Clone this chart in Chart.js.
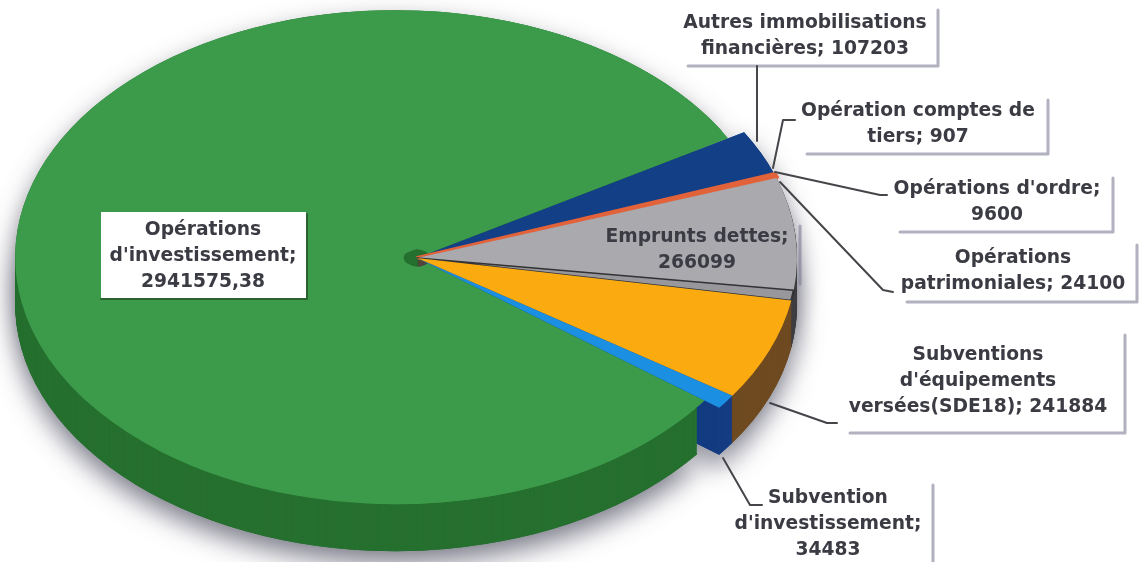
<!DOCTYPE html>
<html lang="fr">
<head>
<meta charset="utf-8">
<title>Répartition</title>
<script src="https://cdn.jsdelivr.net/npm/chart.js@4/dist/chart.umd.min.js"></script>
<style>
html,body{margin:0;padding:0;background:#fff;overflow:hidden}
#wrap{position:relative;width:1141px;height:562px}
canvas{display:block;filter:blur(0.55px)}
</style>
</head>
<body>
<div id="wrap"><canvas id="c" width="1141" height="562"></canvas></div>
<script>
const categories = ["Autres immobilisations financières","Opération comptes de tiers","Opérations d'ordre","Emprunts dettes","Opérations patrimoniales","Subventions d'équipements versées(SDE18)","Subvention d'investissement","Opérations d'investissement"];
const seriesValues = [107203,907,9600,266099,24100,241884,34483,2941575.38];
const labelLines = [
  ["Autres immobilisations","financières; 107203"],
  ["Opération comptes de","tiers; 907"],
  ["Opérations d'ordre;","9600"],
  ["Emprunts dettes;","266099"],
  ["Opérations","patrimoniales; 24100"],
  ["Subventions","d'équipements","versées(SDE18); 241884"],
  ["Subvention","d'investissement;","34483"],
  ["Opérations","d'investissement;","2941575,38"]
];
const topColors = ["#123f86","#123f86","#e2623a","#a9a9ae","#98989c","#fbab10","#1b8fe2","#3c9b4a"];
const sideColors = ["#123f86","#123f86","#a8452a","#3f3f42","#3f3f42","#6f4a20","#143c82","#26702f"];
const borderColors = ["#123f86","#123f86","#e2623a","#a9a9ae","#333336","#fbab10","#1b8fe2","#3c9b4a"];
const borderWidths = [0,0,3,0,1.2,0,0,0];
const explode = [0,0,0,0,0,0,0,46];

// layout of the annotation boxes
const boxes = [
  {x:678,y:10,w:260,h:56,cx:805,ty:23,shadow:1,fill:1},
  {x:797,y:100,w:251,h:54,cx:918,ty:111,shadow:1,fill:1},
  {x:890,y:178,w:223,h:54,cx:997,ty:189,shadow:1,fill:1},
  {x:600,y:226,w:200,h:58,cx:697,ty:237,shadow:1,fill:0},
  {x:897,y:245,w:240,h:57,cx:1013,ty:258,shadow:1,fill:1},
  {x:840,y:335,w:285,h:98,cx:978,ty:355,shadow:1,fill:1},
  {x:735,y:485,w:198,h:90,cx:828,ty:498,shadow:1,fill:1},
  {x:101,y:212,w:205,h:86,cx:203,ty:230,shadow:2,fill:1}
];
const leaders = [
  [[757,66],[757,141]],
  [[795,120],[783,120],[773,168]],
  [[775,172],[880,195],[887,195]],
  null,
  [[780,182],[883,290],[893,292]],
  [[770,403],[827,423],[837,423]],
  [[723,458],[750,505],[762,505]],
  null
];
const PIE = {x:417,y:258,rx:380,ry:247,depth:47,r:200};

function pieTransform(ctx,chart,d){
  const el = chart.getDatasetMeta(0).data[0];
  ctx.translate(PIE.x,PIE.y+d);
  ctx.scale(PIE.rx/PIE.r,PIE.ry/PIE.r);
  ctx.translate(-el.x,-el.y);
}
function centre(el,off){
  const mid=(el.startAngle+el.endAngle)/2;
  return [el.x+Math.cos(mid)*off, el.y+Math.sin(mid)*off];
}
function sector(ctx,el,off){
  const c=centre(el,off);
  ctx.beginPath();
  ctx.moveTo(c[0],c[1]);
  ctx.arc(c[0],c[1],PIE.r,el.startAngle,el.endAngle);
  ctx.closePath();
}
const pie3d = {
  id:'pie3d',
  beforeDatasetsDraw(chart){
    const ctx=chart.ctx, arcs=chart.getDatasetMeta(0).data;
    // the library grows an exploded arc by its offset: keep the radius constant
    arcs.forEach((el,i)=>{ el.outerRadius = PIE.r - explode[i]/4; });
    // soft shadow, falling mostly downward
    ctx.save();
    ctx.shadowColor='rgba(70,70,90,0.7)';
    ctx.shadowBlur=26;
    ctx.shadowOffsetX=0; ctx.shadowOffsetY=12;
    [0,PIE.depth].forEach(d=>arcs.forEach((el,i)=>{
      ctx.save();
      pieTransform(ctx,chart,d);
      ctx.fillStyle=sideColors[i];
      sector(ctx,el,explode[i]/4);
      ctx.fill();
      ctx.restore();
    }));
    ctx.restore();
    // side walls
    for(let d=PIE.depth;d>0;d--){
      arcs.forEach((el,i)=>{
        ctx.save();
        if(explode[i]){ ctx.beginPath(); ctx.rect(0,PIE.y-5,1141,400); ctx.clip(); }
        pieTransform(ctx,chart,d);
        ctx.fillStyle=sideColors[i];
        sector(ctx,el,explode[i]/4);
        ctx.fill();
        ctx.restore();
      });
    }
    // close the seam between the exploded slice and the rest, except at the tip
    const g=arcs[7], c=centre(g,explode[7]/4);
    ctx.save();
    pieTransform(ctx,chart,0);
    ctx.beginPath();
    ctx.arc(c[0],c[1],PIE.r,0,Math.PI*2);
    ctx.clip();
    ctx.fillStyle=topColors[7];
    ctx.beginPath();
    ctx.arc(g.x,g.y,PIE.r,g.startAngle,g.endAngle);
    ctx.arc(g.x,g.y,PIE.r*0.035,g.endAngle,g.startAngle,true);
    ctx.closePath();
    ctx.fill();
    ctx.restore();
    ctx.save();
    pieTransform(ctx,chart,0);
  },
  afterDatasetsDraw(chart){
    const ctx=chart.ctx;
    ctx.restore();
    ctx.save();
    ctx.lineCap='round'; ctx.lineJoin='round';
    boxes.forEach((b,i)=>{
      if(b.fill){
        ctx.fillStyle='#fff';
        ctx.fillRect(b.x,b.y,b.w,Math.min(b.h,562-b.y));
      }
      if(b.shadow===1){
        ctx.strokeStyle='rgba(125,125,150,0.6)';
        ctx.lineWidth=3;
        ctx.beginPath();
        ctx.moveTo(b.x+b.w,b.y);
        ctx.lineTo(b.x+b.w,b.y+b.h);
        if(b.fill) ctx.lineTo(b.x+10,b.y+b.h);
        ctx.stroke();
      } else {
        ctx.strokeStyle='rgba(30,50,30,0.55)';
        ctx.lineWidth=2;
        ctx.beginPath();
        ctx.moveTo(b.x+b.w+1,b.y+2);
        ctx.lineTo(b.x+b.w+1,b.y+b.h+1);
        ctx.lineTo(b.x,b.y+b.h+1);
        ctx.stroke();
      }
    });
    ctx.strokeStyle='#45454a';
    ctx.lineWidth=2;
    leaders.forEach(l=>{
      if(!l) return;
      ctx.beginPath();
      l.forEach((p,j)=> j?ctx.lineTo(p[0],p[1]):ctx.moveTo(p[0],p[1]));
      ctx.stroke();
    });
    ctx.fillStyle='#3b3b44';
    ctx.font='700 18.7px "DejaVu Sans", sans-serif';
    ctx.textAlign='center';
    ctx.textBaseline='middle';
    labelLines.forEach((lines,i)=>{
      lines.forEach((t,j)=>ctx.fillText(t,boxes[i].cx,boxes[i].ty+j*26));
    });
    ctx.restore();
  }
};

new Chart(document.getElementById('c'),{
  type:'pie',
  data:{
    labels:categories,
    datasets:[{
      data:seriesValues,
      backgroundColor:topColors,
      borderWidth:borderWidths,
      borderColor:borderColors,
      offset:explode,
      clip:false
    }]
  },
  options:{
    responsive:false,
    animation:false,
    rotation:59.4,
    radius:PIE.r,
    layout:{padding:0},
    plugins:{legend:{display:false},tooltip:{enabled:false},title:{display:false}}
  },
  plugins:[pie3d]
});
</script>
</body>
</html>
